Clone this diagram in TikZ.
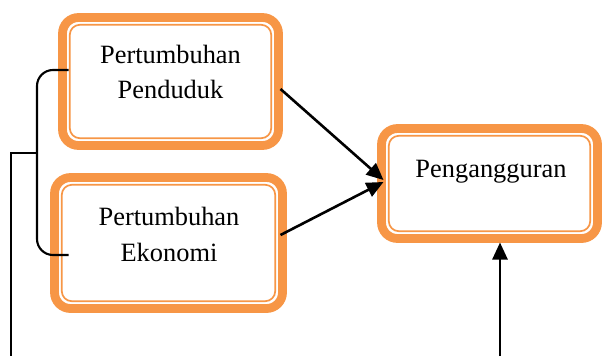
\documentclass[tikz,border=0pt]{standalone}
\usepackage{fontspec}
\setmainfont{Liberation Serif}
\usetikzlibrary{arrows.meta,calc}
\definecolor{acc}{HTML}{F79646}
\begin{document}
\begin{tikzpicture}[x=1pt,y=-1pt,
  box/.style={draw=acc, line width=8.8pt, rounded corners=16pt, fill=white, inner sep=0pt, outer sep=0pt},
  innerline/.style={draw=acc, line width=1.7pt, rounded corners=10pt},
  lbl/.style={font=\fontsize{26.4}{35}\selectfont, anchor=base, inner sep=0pt},
  conn/.style={line width=2.6pt, -{Triangle[length=17pt,width=15pt]}},
  brace/.style={line width=2.1pt, rounded corners=16pt}]
\useasboundingbox (0,0) rectangle (602,356);
\node[box, minimum width=216pt, minimum height=128pt] (b1) at (170.5,81.5) {};
\node[box, minimum width=228pt, minimum height=131pt] (b2) at (168.5,243) {};
\node[box, minimum width=216pt, minimum height=110pt] (b3) at (489.5,183.5) {};
\foreach \b in {b1,b2,b3}{
  \draw[innerline] ([xshift=7.3pt,yshift=-7.3pt]\b.north west) rectangle ([xshift=-7.3pt,yshift=7.3pt]\b.south east);
}
\node[lbl] (t1a) at (170.5,63) {Pertumbuhan};
\node[lbl] (t1b) at (170.5,98) {Penduduk};
\node[lbl] (t2a) at (169,225) {Pertumbuhan};
\node[lbl] (t2b) at (169,261) {Ekonomi};
\node[lbl] (t3a) at (491,177) {Pengangguran};
% arrows
\draw[conn] ($(b1.east)+(2,7.5)$) -- ($(b3.west)+(2,-3.5)$);
\draw[conn] ($(b2.east)+(-2,-8)$) -- ($(b3.west)+(2,-1.5)$);
\coordinate (src) at (500,356);
\draw[conn] (src) -- ($(src |- b3.south)+(0,4)$);
% bracket
\coordinate (bt) at ($(b1.west)+(6,-11.5)$);
\coordinate (bb) at ($(b2.west)+(14,12)$);
\coordinate (bx) at (37,153);
\coordinate (out) at (11,356);
\draw[brace] (bt) -| (bx) |- (bb);
\draw[brace, rounded corners=0pt] (bx) -| (out);
\end{tikzpicture}
\end{document}
